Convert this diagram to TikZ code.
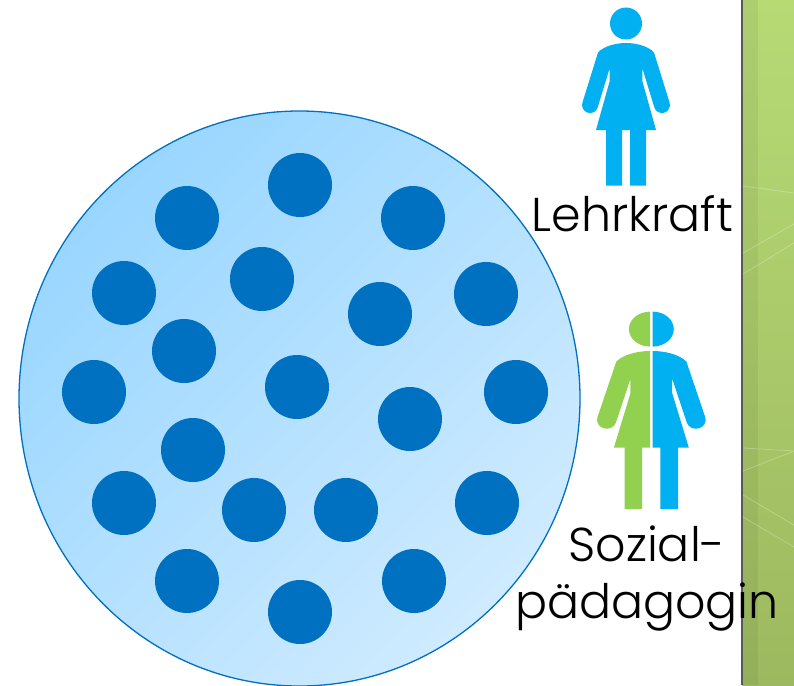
\documentclass[tikz,border=0pt]{standalone}
\usepackage{fontspec}
\setmainfont{Poppins}[UprightFont=*-Light]
\usetikzlibrary{calc, shapes.geometric}
\definecolor{dotBlue}{HTML}{0070C0}
\definecolor{figBlue}{HTML}{00B0F0}
\definecolor{figGreen}{HTML}{92D050}
\definecolor{panelTop}{HTML}{B7DA75}
\definecolor{panelBottom}{HTML}{9DB95F}
\definecolor{classLight}{HTML}{CFEBFF}
\definecolor{classDark}{HTML}{99D6FF}
\tikzset{
  dot/.style={circle, fill=dotBlue, minimum size=64pt, inner sep=0pt},
  streak/.style={white, opacity=0.25, line width=0.8pt},
  figLabel/.style={font=\fontsize{47.5}{57}\selectfont, align=center, text=black, inner sep=0pt},
}
% one half of a standing figure, seen from the centre line to the right
\newcommand{\drawHalfFigure}[3]{
  \fill[#1] (0,0) .. controls (10,0) and (22,3) .. (28,9.5) -- (43.6,59.7)
    arc (-17:163:8) -- (16.3,25) -- (16.3,38) -- (30,87) -- (#3,87) -- (#3,142.5) -- (#2,142.5) -- (#2,87) -- (0,87) -- cycle;
}

\begin{document}
\begin{tikzpicture}[x=1pt, y=-1pt]
  \useasboundingbox (0,0) rectangle (794,685);
  % panel on the right
  \fill[top color=panelTop, bottom color=panelBottom] (742,0) rectangle (794,685);
  \fill[black, opacity=0.05] (742,0) rectangle (758,685);
  \draw[streak] (743,186) -- (794,193);
  \draw[streak] (743,253) -- (794,224);
  \draw[streak] (743,274) -- (794,243);
  \draw[streak] (743,448) -- (794,451) -- (743,471);
  \draw[streak] (743,495) -- (794,525);
  \draw[streak] (743,517) -- (794,547);
  \draw[black!65, line width=1.6pt] (742,0) -- (742,685);
  % class
  \node[ellipse, draw=dotBlue, line width=1.3pt, left color=classDark, right color=classLight, shading angle=45, minimum width=561pt, minimum height=575pt, inner sep=0pt] (class) at (299.5,398.5) {};
  \foreach \i/\x/\y in {1/300/185, 2/187/218, 3/413/218, 4/124/293, 5/262/279, 6/380/314, 7/486/294,
    8/184/351, 9/94/392, 10/297/387, 11/410/419, 12/516/392, 13/193/450, 14/124/503, 15/254/510,
    16/346/510, 17/487/503, 18/187/581, 19/414/581, 20/300/612}
    \node[dot] (dot\i) at (\x,\y) {};
  % teacher
  \fill[figBlue] (626,23.5) circle (16);
  \begin{scope}[shift={(626,43)}]
    \drawHalfFigure{figBlue}{4}{20}
    \begin{scope}[xscale=-1]
      \drawHalfFigure{figBlue}{4}{20}
    \end{scope}
    \fill[figBlue] (-4.5,0) rectangle (4.5,87);
  \end{scope}
  \node[figLabel] (teacher) at (632.5,214) {Lehrkraft};
  % social worker
  \fill[figGreen] (650.2,346.6) arc (90:270:21.3 and 17.5) -- cycle;
  \fill[figBlue] (652.5,346.6) arc (90:-90:21.3 and 17.5) -- cycle;
  \begin{scope}[shift={(650.2,351)}, xscale=-1.21, yscale=1.11]
    \drawHalfFigure{figGreen}{6.6}{21.2}
  \end{scope}
  \begin{scope}[shift={(652.5,351)}, xscale=1.21, yscale=1.11]
    \drawHalfFigure{figBlue}{6.6}{21.2}
  \end{scope}
  \node[figLabel] (worker) at (647,578.5) {Sozial-\\pädagogin};
\end{tikzpicture}
\end{document}
